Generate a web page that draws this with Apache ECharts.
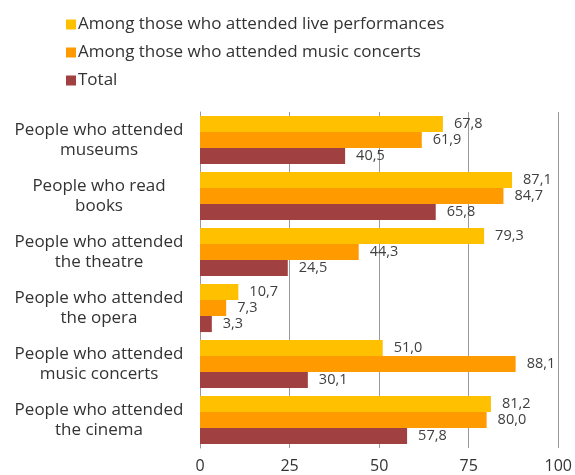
<!DOCTYPE html>
<html>
<head>
<meta charset="utf-8">
<script src="https://cdn.jsdelivr.net/npm/echarts@6/dist/echarts.min.js"></script>
<style>
html, body { margin: 0; padding: 0; background: #fff; }
#chart { width: 575px; height: 475px; }
</style>
</head>
<body>
<div id="chart"></div>
<script>
var categories = [
    'People who attended\nmuseums',
    'People who read\nbooks',
    'People who attended\nthe theatre',
    'People who attended\nthe opera',
    'People who attended\nmusic concerts',
    'People who attended\nthe cinema'
];
var seriesNames = [
    'Among those who attended live performances',
    'Among those who attended music concerts',
    'Total'
];
var livePerf = [67.8, 87.1, 79.3, 10.7, 51.0, 81.2];
var musicConc = [61.9, 84.7, 44.3, 7.3, 88.1, 80.0];
var total = [40.5, 65.8, 24.5, 3.3, 30.1, 57.8];
var xTicks = [0, 25, 50, 75, 100];

var colors = ['#FFC000', '#FF9B00', '#A04040'];
var fontName = 'Open Sans';

function fmt(p) {
    return p.value.toFixed(1).replace('.', ',');
}

function makeSeries(name, data, color) {
    return {
        name: name,
        type: 'bar',
        data: data,
        barGap: '0%',
        barCategoryGap: '14%',
        itemStyle: {color: color},
        label: {
            show: true,
            position: 'right',
            distance: 11,
            formatter: fmt,
            color: '#404040',
            fontSize: 14.5,
            fontFamily: fontName
        }
    };
}

var myChart = echarts.init(document.getElementById('chart'));
myChart.setOption({
    animation: false,
    legend: {
        orient: 'vertical',
        left: 61,
        top: 11,
        itemWidth: 10,
        itemHeight: 10,
        itemGap: 11,
        icon: 'rect',
        textStyle: {fontSize: 17, color: '#333', fontFamily: fontName, padding: [0, 0, 0, -3]},
        data: seriesNames
    },
    grid: {left: 200, right: 16, top: 112, bottom: 27, containLabel: false},
    xAxis: {
        type: 'value',
        min: 0,
        max: 100,
        interval: 25,
        axisLine: {show: false},
        axisTick: {show: false},
        splitLine: {lineStyle: {color: '#999', width: 1}},
        axisLabel: {
            fontSize: 16,
            color: '#333',
            fontFamily: fontName,
            margin: 10,
            formatter: function(v) { return xTicks.indexOf(v) >= 0 ? String(v) : ''; }
        }
    },
    yAxis: {
        type: 'category',
        inverse: true,
        data: categories,
        axisLine: {show: true, lineStyle: {color: '#999'}},
        axisTick: {show: false},
        axisLabel: {
            fontSize: 17,
            color: '#333',
            fontFamily: fontName,
            align: 'center',
            margin: 101,
            lineHeight: 20,
            padding: [5, 0, 0, 0]
        }
    },
    series: [
        makeSeries(seriesNames[0], livePerf, colors[0]),
        makeSeries(seriesNames[1], musicConc, colors[1]),
        makeSeries(seriesNames[2], total, colors[2])
    ]
});
</script>
</body>
</html>
